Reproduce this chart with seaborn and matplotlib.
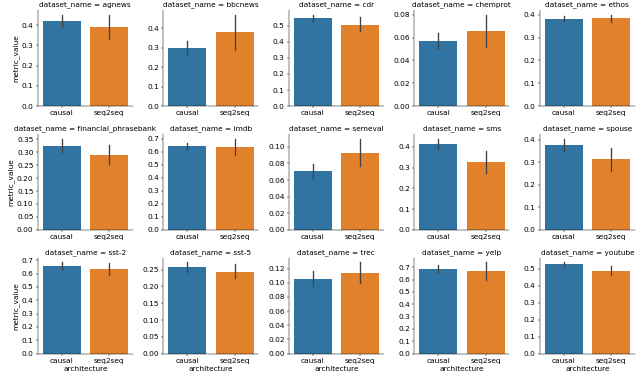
import matplotlib as mpl
mpl.use("Agg")
from matplotlib import pyplot as plt
from matplotlib.ticker import MaxNLocator
import seaborn as sns
import numpy as np
import pandas as pd

datasets = ["agnews", "bbcnews", "cdr", "chemprot", "ethos",
            "financial_phrasebank", "imdb", "semeval", "sms", "spouse",
            "sst-2", "sst-5", "trec", "yelp", "youtube"]

# bar height, lower and upper end of the error bar, per dataset
causal_mid = [0.422, 0.300, 0.545, 0.0570, 0.383, 0.325, 0.642, 0.0703, 0.415, 0.377, 0.655, 0.258, 0.105, 0.686, 0.527]
causal_low = [0.395, 0.270, 0.520, 0.0500, 0.373, 0.300, 0.615, 0.0620, 0.390, 0.350, 0.630, 0.243, 0.095, 0.655, 0.515]
causal_high = [0.452, 0.335, 0.568, 0.0640, 0.395, 0.353, 0.665, 0.0790, 0.440, 0.405, 0.685, 0.272, 0.116, 0.720, 0.537]

seq_mid = [0.390, 0.382, 0.507, 0.0655, 0.386, 0.289, 0.635, 0.0930, 0.325, 0.313, 0.633, 0.244, 0.114, 0.670, 0.487]
seq_low = [0.330, 0.290, 0.465, 0.0520, 0.370, 0.255, 0.575, 0.0770, 0.275, 0.262, 0.590, 0.225, 0.100, 0.600, 0.460]
seq_high = [0.452, 0.470, 0.555, 0.0800, 0.400, 0.327, 0.700, 0.1100, 0.378, 0.365, 0.680, 0.266, 0.129, 0.740, 0.513]

rows = []
for i, name in enumerate(datasets):
    for arch, vals in [("causal", (causal_low[i], causal_mid[i], causal_high[i])),
                       ("seq2seq", (seq_low[i], seq_mid[i], seq_high[i]))]:
        for v in vals:
            rows.append({"dataset_name": name, "architecture": arch, "metric_value": v})
df = pd.DataFrame(rows)

fs = 12.5
plt.rcParams.update({"font.size": fs, "axes.labelsize": fs,
                     "xtick.labelsize": fs, "ytick.labelsize": fs})

dpi = 640 / 15
fig_h = 377 / dpi
g = sns.catplot(data=df, x="architecture", y="metric_value", hue="architecture",
                col="dataset_name", col_wrap=5, kind="bar", sharey=False, sharex=False,
                estimator="median", errorbar=("pi", 100), legend=False,
                height=fig_h / 3, aspect=3 / (fig_h / 3))
for ax in g.axes.flat:
    ax.yaxis.set_major_locator(MaxNLocator(nbins=8, steps=[1, 2, 2.5, 5, 10]))
g.figure.subplots_adjust(left=0.059, right=0.992, top=0.973, bottom=0.062,
                         wspace=0.32, hspace=0.29)
plt.savefig("out.png", dpi=dpi)
